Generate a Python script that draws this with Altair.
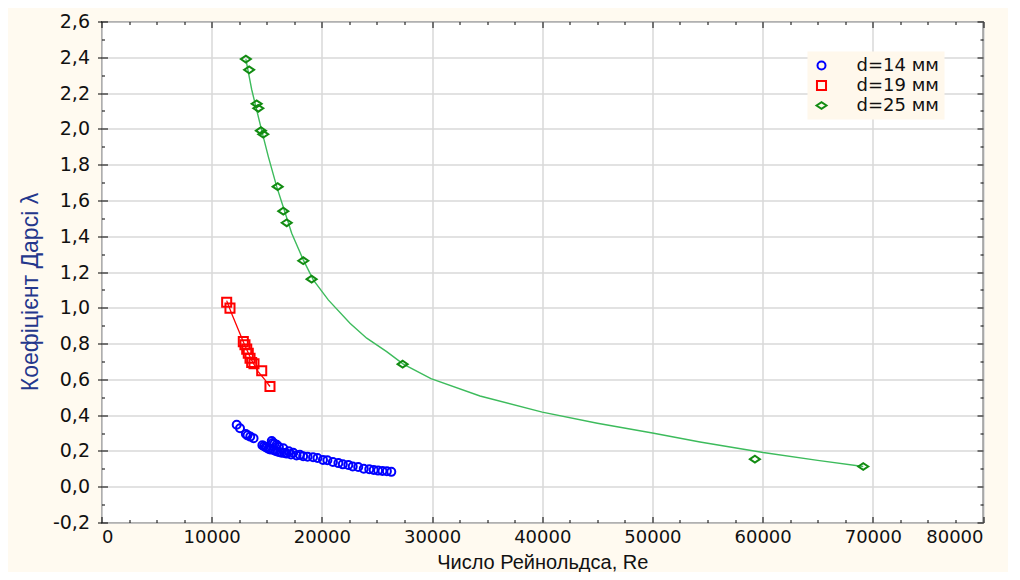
import altair as alt
import pandas as pd

# ---------------- data ----------------
series_names = ["d=14 мм", "d=19 мм", "d=25 мм"]

re14 = [12270, 12570, 13100, 13250, 13500, 13800, 14600, 14750, 14900, 15000,
        15150, 15300, 15450, 15550, 15600, 15700, 15800, 15900, 16000, 16100,
        16200, 16350, 16500, 16600, 16800, 17000, 17200, 17400, 17700, 18000,
        18300, 18700, 19200, 19600, 20100, 20500, 21000, 21500, 21900, 22400,
        22800, 23300, 23800, 24300, 24700, 25100, 25500, 25900, 26300]
lam14 = [0.346, 0.327, 0.295, 0.287, 0.280, 0.271, 0.232, 0.226, 0.222, 0.218,
         0.212, 0.208, 0.255, 0.245, 0.205, 0.240, 0.200, 0.235, 0.196, 0.222,
         0.193, 0.190, 0.215, 0.188, 0.185, 0.198, 0.180, 0.190, 0.175, 0.178,
         0.170, 0.168, 0.165, 0.160, 0.150, 0.148, 0.138, 0.132, 0.125, 0.122,
         0.113, 0.110, 0.100, 0.098, 0.093, 0.090, 0.088, 0.086, 0.083]

re19 = [11360, 11660, 12870, 13020, 13180, 13320, 13480, 13630, 13840, 14540, 15290]
lam19 = [1.031, 0.998, 0.811, 0.793, 0.769, 0.746, 0.718, 0.694, 0.687, 0.648, 0.560]

re25 = [13100, 13400, 14080, 14230, 14470, 14680, 15990, 16500, 16810, 18310,
        19070, 27330, 59300, 69130]
lam25 = [2.39, 2.33, 2.14, 2.115, 1.99, 1.97, 1.677, 1.54, 1.475, 1.263,
         1.16, 0.685, 0.154, 0.113]

fit19_re = [11360, 11800, 12400, 13000, 13600, 14200, 14800, 15290]
fit19_lam = [1.04, 0.97, 0.88, 0.79, 0.71, 0.645, 0.60, 0.56]

fit25_re = [13100, 13630, 14540, 15140, 15900, 17260, 18310, 19220, 20580, 22550,
            24070, 25880, 27390, 29900, 34350, 40000, 45000, 50000, 54320, 60050,
            65000, 69130]
fit25_lam = [2.39, 2.22, 1.99, 1.845, 1.677, 1.417, 1.268, 1.156, 1.044, 0.914,
             0.83, 0.755, 0.685, 0.604, 0.507, 0.417, 0.355, 0.30, 0.25, 0.191,
             0.147, 0.113]

x_ticks = [0, 10000, 20000, 30000, 40000, 50000, 60000, 70000, 80000]
x_minor = [2500, 5000, 7500, 12500, 15000, 17500, 22500, 25000, 27500, 32500,
           35000, 37500, 42500, 45000, 47500, 52500, 55000, 57500, 62500, 65000,
           67500, 72500, 75000, 77500]
y_ticks = [-0.2, 0.0, 0.2, 0.4, 0.6, 0.8, 1.0, 1.2, 1.4, 1.6, 1.8, 2.0, 2.2, 2.4, 2.6]
y_minor = [-0.1, 0.1, 0.3, 0.5, 0.7, 0.9, 1.1, 1.3, 1.5, 1.7, 1.9, 2.1, 2.3, 2.5]

point_colors = ["#0000FF", "#FF0000", "#128C12"]
diamond = "M-1,0L0,-0.68L1,0L0,0.68Z"
point_shapes = ["circle", "square", diamond]
point_sizes = [64, 100, 200]

# ---------------- tables ----------------
pts = pd.DataFrame({
    "Re": re14 + re19 + re25,
    "lam": lam14 + lam19 + lam25,
    "series": [series_names[0]] * len(re14) + [series_names[1]] * len(re19)
              + [series_names[2]] * len(re25),
})
fit19 = pd.DataFrame({"Re": fit19_re, "lam": fit19_lam})
fit25 = pd.DataFrame({"Re": fit25_re, "lam": fit25_lam})

W, H = 881.5, 501
x_scale = alt.Scale(domain=[0, 80000], nice=False, zero=False)
y_scale = alt.Scale(domain=[-0.2, 2.6], nice=False, zero=False)

tick_font = "DejaVu Sans"

x_axis = alt.Axis(
    values=x_ticks, tickCount=30, format="d", title="Число Рейнольдса, Re",
    labelFont=tick_font, labelFontSize=18, labelColor="#111111",
    labelPadding=6, ticks=False, domain=False,
    grid=True, gridColor="#D9D9D9", gridWidth=1.5,
    titleFont="Liberation Sans", titleFontSize=20, titleFontWeight="normal",
    titleColor="#111111", titleBaseline="alphabetic", titleY=45.5,
)
y_axis = alt.Axis(
    values=y_ticks, tickCount=30,
    labelExpr="replace(replace(format(datum.value, '.1f'), '.', ','), '\u2212', '-')",
    labelFont=tick_font, labelFontSize=19, labelColor="#111111",
    labelPadding=8, tickSize=4, tickColor="#000000", domain=False,
    grid=True, gridColor="#D9D9D9", gridWidth=1.5,
    title="Коефіцієнт Дарсі   λ", titleFont="Liberation Sans",
    titleFontSize=23, titleFontWeight="normal", titleColor="#24378C",
    titleAngle=270, titleAlign="center", titleBaseline="middle",
    titleX=-71, titleY=270,
)


def inner_axis(vals, orient, offset, size):
    return alt.Axis(values=vals, tickCount=40, orient=orient, offset=offset,
                    labels=False, domain=False, grid=False, title=None,
                    tickSize=size, tickColor="#000000", tickWidth=1)


legend = alt.Legend(
    title=None, orient="none", legendX=706, legendY=30,
    fillColor="#FFF8EC", padding=5, labelFont=tick_font, labelFontSize=18,
    labelColor="#111111", labelOffset=26, rowPadding=2,
    symbolStrokeWidth=2,
)

line25 = alt.Chart(fit25).mark_line(color="#3DBB5C", strokeWidth=1.4).encode(
    x=alt.X("Re:Q", scale=x_scale, axis=x_axis),
    y=alt.Y("lam:Q", scale=y_scale, axis=y_axis),
)
line19 = alt.Chart(fit19).mark_line(color="#FF0000", strokeWidth=1.3).encode(
    x=alt.X("Re:Q", scale=x_scale, axis=None),
    y=alt.Y("lam:Q", scale=y_scale, axis=None),
)

# invisible layers that only carry the inward frame ticks
frame_layers = []
for xv, yv, sz in [(x_ticks, y_ticks, 6), (x_minor, y_minor, 3)]:
    # bottom edge (ticks pointing up) and left edge (ticks pointing right)
    frame_layers.append(alt.Chart(fit25).mark_line(opacity=0).encode(
        x=alt.X("Re:Q", scale=x_scale, axis=inner_axis(xv, "top", -H, sz)),
        y=alt.Y("lam:Q", scale=y_scale, axis=inner_axis(yv, "right", -W, sz)),
    ))
    # top edge (ticks pointing down) and right edge (ticks pointing left)
    frame_layers.append(alt.Chart(fit25).mark_line(opacity=0).encode(
        x=alt.X("Re:Q", scale=x_scale, axis=inner_axis(xv, "bottom", -H, sz)),
        y=alt.Y("lam:Q", scale=y_scale, axis=inner_axis(yv, "left", -W, sz)),
    ))

points = alt.Chart(pts).mark_point(filled=False, strokeWidth=2, opacity=1).encode(
    x=alt.X("Re:Q", scale=x_scale, axis=None),
    y=alt.Y("lam:Q", scale=y_scale, axis=None),
    color=alt.Color("series:N", scale=alt.Scale(domain=series_names, range=point_colors), legend=legend),
    shape=alt.Shape("series:N", scale=alt.Scale(domain=series_names, range=point_shapes), legend=legend),
    size=alt.Size("series:N", scale=alt.Scale(domain=series_names, range=point_sizes), legend=legend),
)

chart = alt.layer(line25, *frame_layers, line19, points).resolve_axis(
    x="independent", y="independent"
).properties(
    width=W, height=H,
    padding={"left": 93.5, "top": 13.5, "right": 25, "bottom": 49.5},
    autosize=alt.AutoSizeParams(type="none"),
    background="#FFFAF0",
).configure_view(
    fill="#FFFFFF", stroke="#000000", strokeWidth=1.2,
)

chart.save("out.html", embed_options={"renderer": "svg", "actions": False})
